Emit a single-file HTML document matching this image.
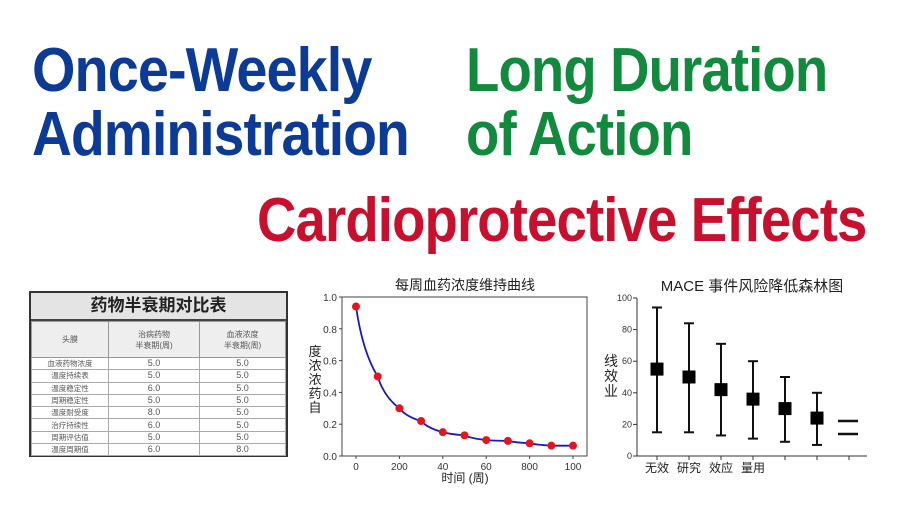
<!DOCTYPE html>
<html><head><meta charset="utf-8">
<style>
body{margin:0;width:900px;height:506px;background:#fff;overflow:hidden;position:relative;font-family:"Liberation Sans","Noto Sans CJK SC",sans-serif}
.h{position:absolute;font-weight:bold;font-size:62px;line-height:1;white-space:nowrap;transform-origin:0 0;letter-spacing:-1px}
table{border-collapse:collapse}
</style></head><body>
<div class="h" style="left:32px;top:40px;color:#0b3b95;transform:scaleX(0.9)">Once-Weekly</div>
<div class="h" style="left:32px;top:104px;color:#0b3b95;transform:scaleX(0.89)">Administration</div>
<div class="h" style="left:466px;top:40px;color:#118a3e;transform:scaleX(0.88)">Long Duration</div>
<div class="h" style="left:466px;top:104px;color:#118a3e;transform:scaleX(0.88)">of Action</div>
<div class="h" style="left:257px;top:190px;color:#c8102e;transform:scaleX(0.88)">Cardioprotective Effects</div>

<div style="position:absolute;left:29px;top:291px;width:259px;height:166px;border:2px solid #333;box-sizing:border-box;background:#fff;font-size:8px;color:#555">
<div style="height:26px;background:#e4e4e4;border-bottom:2px solid #444;text-align:center;font-size:17px;font-weight:bold;line-height:26px;color:#222">药物半衰期对比表</div>
<table style="width:100%;">
<tr style="height:36px;background:#eee"><td style="width:74px;border:1px solid #999;text-align:center">头膜</td><td style="width:88px;border:1px solid #999;text-align:center">治病药物<br>半衰期(周)</td><td style="border:1px solid #999;text-align:center">血液浓度<br>半衰期(周)</td></tr>
<tbody id="tb"></tbody>
</table>
</div>

<svg id="lc" width="900" height="506" style="position:absolute;left:0;top:0" font-family="Liberation Sans, Noto Sans CJK SC, sans-serif"></svg>

<script>
const rowNames=["血液药物浓度","温度持续表","温度稳定性","周期稳定性","温度耐受度","治疗持续性","周期评估值","温度周期值"];
const colA=["5.0","5.0","6.0","5.0","8.0","6.0","5.0","6.0"];
const colB=["5.0","5.0","5.0","5.0","5.0","5.0","5.0","8.0"];
const tb=document.getElementById('tb');
rowNames.forEach((n,i)=>{const tr=document.createElement('tr');tr.style.height='12.3px';
[n,colA[i],colB[i]].forEach((v,j)=>{const td=document.createElement('td');td.textContent=v;


td.style.cssText='border:1px solid #aaa;text-align:center;padding:0;line-height:11px;font-size:'+(j?9:7.5)+'px';tr.appendChild(td);});tb.appendChild(tr);});

const NS='http://www.w3.org/2000/svg';const svg=document.getElementById('lc');
function el(t,a,txt){const e=document.createElementNS(NS,t);for(const k in a)e.setAttribute(k,a[k]);if(txt!==undefined)e.textContent=txt;svg.appendChild(e);return e;}

// line chart data
const concX=[0,1,2,3,4,5,6,7,8,9,10];
const concY=[0.94,0.50,0.30,0.22,0.15,0.13,0.10,0.095,0.08,0.065,0.065];
const concTickLabels=["0","200","40","60","800","100"];
const concYTicks=[0,0.2,0.4,0.6,0.8,1.0];
const lx=i=>356+i*21.7, ly=v=>456-v*159;
let t=el('text',{x:465,y:290,'text-anchor':'middle','font-size':14,fill:'#222'},'每周血药浓度维持曲线');
let ax=el('rect',{x:342,y:297,width:245,height:159,fill:'none',stroke:'#444','stroke-width':1});
concYTicks.forEach(v=>{el('line',{x1:339,x2:342,y1:ly(v),y2:ly(v),stroke:'#444'});const tt=el('text',{x:337,y:ly(v)+4,'text-anchor':'end','font-size':10,fill:'#333'},v.toFixed(1));});
concTickLabels.forEach((l,k)=>{const x=lx(k*2);el('line',{x1:x,x2:x,y1:456,y2:459,stroke:'#444'});const tt=el('text',{x:x,y:470,'text-anchor':'middle','font-size':10,fill:'#333'},l);});
t=el('text',{x:465,y:482,'text-anchor':'middle','font-size':12,fill:'#222'},'时间 (周)');
['度','浓','浓','药','自'].forEach((c,i)=>{const tt=el('text',{x:315,y:356+i*14,'text-anchor':'middle','font-size':13,fill:'#222'},c);});
let d='';for(let i=0;i<concX.length-1;i++){const x0=lx(concX[i]),y0=ly(concY[i]),x1=lx(concX[i+1]),y1=ly(concY[i+1]);if(!i)d+='M'+x0+','+y0;d+=' Q'+(x0+ (x1-x0)*0.3)+','+(y1+(y0-y1)*0.35)+' '+x1+','+y1;}
let p=el('path',{d:d,fill:'none',stroke:'#1a1ab8','stroke-width':1.8});
concX.forEach((x,i)=>{const c=el('circle',{cx:lx(x),cy:ly(concY[i]),r:4,fill:'#e8141b'});});

// forest plot data
const forestCats=["无效","研究","效应","量用","",""];
const forestMean=[55,50,42,36,30,24];
const forestLow=[15,15,13,11,9,7];
const forestHigh=[94,84,71,60,50,40];
const forestTicks=[0,20,40,60,80,100];
const fx=i=>657+i*32, fy=v=>456-v*1.58;
t=el('text',{x:752,y:291,'text-anchor':'middle','font-size':15,fill:'#222'},'MACE 事件风险降低森林图');
el('line',{x1:637,x2:637,y1:298,y2:456,stroke:'#333'});el('line',{x1:637,x2:867,y1:456,y2:456,stroke:'#333'});
forestTicks.forEach(v=>{el('line',{x1:633,x2:637,y1:fy(v),y2:fy(v),stroke:'#333'});const tt=el('text',{x:632,y:fy(v)+3,'text-anchor':'end','font-size':9,fill:'#333'},v);});
['线','效','业'].forEach((c,i)=>{const tt=el('text',{x:611,y:366+i*15,'text-anchor':'middle','font-size':14,fill:'#222'},c);});
forestCats.forEach((c,i)=>{const x=fx(i);
el('line',{x1:x,x2:x,y1:456,y2:460,stroke:'#333'});
const l=el('line',{x1:x,x2:x,y1:fy(forestLow[i]),y2:fy(forestHigh[i]),stroke:'#111','stroke-width':2});
el('line',{x1:x-5,x2:x+5,y1:fy(forestLow[i]),y2:fy(forestLow[i]),stroke:'#111','stroke-width':2});
el('line',{x1:x-5,x2:x+5,y1:fy(forestHigh[i]),y2:fy(forestHigh[i]),stroke:'#111','stroke-width':2});
const r=el('rect',{x:x-6.5,y:fy(forestMean[i])-6.5,width:13,height:13,fill:'#000'});
if(c){const tt=el('text',{x:x,y:472,'text-anchor':'middle','font-size':12,fill:'#222'},c);}
});
el('line',{x1:849,x2:849,y1:456,y2:460,stroke:'#333'});
el('line',{x1:838,x2:858,y1:421,y2:421,stroke:'#111','stroke-width':2.5});
el('line',{x1:838,x2:858,y1:434,y2:434,stroke:'#111','stroke-width':2.5});
</script>
</body></html>
